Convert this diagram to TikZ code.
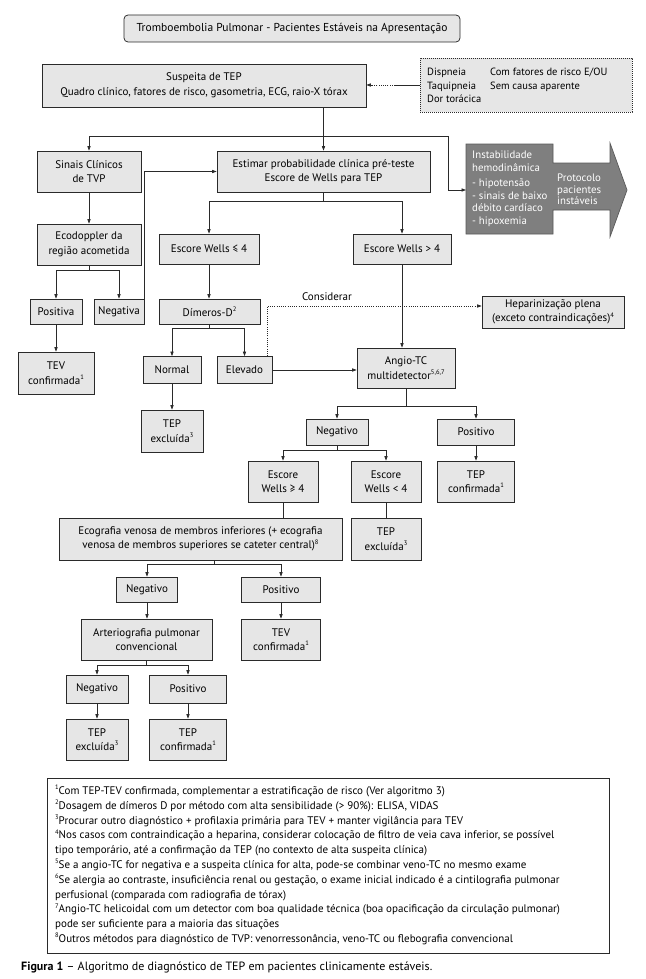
\documentclass[tikz,border=0pt]{standalone}
\usepackage{fontspec}
\setmainfont{PT Sans}
\usetikzlibrary{arrows.meta,calc}
\definecolor{boxfill}{HTML}{E6E6E6}
\definecolor{boxline}{HTML}{2A2A2A}
\definecolor{instfill}{HTML}{7F7F7F}
\definecolor{instline}{HTML}{5A5A5A}
\newcommand\bxf{\fontsize{11}{14.5}\selectfont}
\newcommand\smf{\fontsize{10.5}{13.5}\selectfont}
\newcommand\sps[1]{\raisebox{0.42em}{\fontsize{6.5}{7}\selectfont #1}}
\begin{document}
\begin{tikzpicture}[x=1pt,y=-1pt,
 box/.style={draw=boxline, fill=boxfill, line width=0.75pt, inner sep=1pt, align=center, font=\bxf},
 arr/.style={draw=boxline, line width=0.7pt, -{Triangle[length=4.5pt,width=3.2pt]}},
 ln/.style={draw=boxline, line width=0.7pt},
 dotln/.style={dash pattern=on 1pt off 1.2pt},
 txt/.style={inner sep=0pt, align=left, anchor=north west},
]
\useasboundingbox[fill=white] (0,0) rectangle (645,979);

% title
\node[box, rounded corners=4pt, minimum width=336pt, minimum height=27pt, font=\fontsize{11.5}{14}\selectfont] (title) at (292,28.5) {Tromboembolia Pulmonar - Pacientes Estáveis na Apresentação};

% row 1
\node[box, minimum width=324pt, minimum height=43pt] (susp) at (204,85.5) {Suspeita de TEP\\Quadro clínico, fatores de risco, gasometria, ECG, raio-X tórax};
\node[box, dash pattern=on 1.2pt off 0.8pt, minimum width=212pt, minimum height=54pt] (dash) at (526,85) {};
\node[txt, font=\smf] (dcol1) at (427,68) {Dispneia\\Taquipneia\\Dor torácica};
\node[txt, font=\smf] (dcol2) at (490,68) {Com fatores de risco E/OU\\Sem causa aparente};

% row 2
\node[box, minimum width=104pt, minimum height=41pt] (sinais) at (89,171.5) {Sinais Clínicos\\de TVP};
\node[box, minimum width=213pt, minimum height=41pt] (estimar) at (323.5,171.5) {Estimar probabilidade clínica pré-teste\\Escore de Wells para TEP};

% instability arrow shape
\draw[fill=instfill, draw=instline, line width=0.7pt] (466,144) -- (553,144) -- (553,163) -- (610,163) -- (610,143) -- (627,190) -- (610,237) -- (610,210) -- (553,210) -- (553,234) -- (466,234) -- cycle;
\coordinate (instW) at (466,190);
\node[txt, text=white, font=\fontsize{10.8}{12.5}\selectfont] (itxt) at (472,151) {Instabilidade\\hemodinâmica\\[3pt]- hipotensão\\- sinais de baixo\\débito cardíaco\\- hipoxemia};
\node[txt, text=white, font=\fontsize{10.8}{11.7}\selectfont] (ptxt) at (557,173.5) {Protocolo\\pacientes\\instáveis};

% row 3
\node[box, minimum width=104pt, minimum height=41pt] (ecod) at (89,244.5) {Ecodoppler da\\região acometida};
\node[box, minimum width=100pt, minimum height=30pt] (w1) at (209,249) {Escore Wells ≤ 4};
\node[box, minimum width=98pt, minimum height=30pt] (w2) at (402,249) {Escore Wells > 4};

% row 4
\node[box, minimum width=52pt, minimum height=25pt] (posa) at (56,311.5) {Positiva};
\node[box, minimum width=50pt, minimum height=25pt] (nega) at (119,311.5) {Negativa};
\node[box, minimum width=101pt, minimum height=25pt] (dim) at (209.5,311.5) {Dímeros-D\sps{2}};
\node[box, minimum width=142pt, minimum height=32pt] (hep) at (553,312) {Heparinização plena\\(exceto contraindicações)\sps{4}};
\node[inner sep=1pt, font=\bxf] (cons) at (327,297) {Considerar};

% row 5
\node[box, minimum width=76pt, minimum height=42pt] (tev1) at (56,373) {TEV\\confirmada\sps{1}};
\node[box, minimum width=58pt, minimum height=27pt] (normal) at (172,370) {Normal};
\node[box, minimum width=55pt, minimum height=27pt] (elev) at (244.5,370) {Elevado};
\node[box, minimum width=98pt, minimum height=40pt] (angio) at (406,368) {Angio-TC\\multidetector\sps{5,6,7}};

% row 6
\node[box, minimum width=62pt, minimum height=42pt] (tepx1) at (172,431) {TEP\\excluída\sps{3}};
\node[box, minimum width=62pt, minimum height=26pt] (neg1) at (337,432) {Negativo};
\node[box, minimum width=77pt, minimum height=26pt] (pos1) at (476,432) {Positivo};

% row 7
\node[box, minimum width=70pt, minimum height=41pt] (w3) at (283,481.5) {Escore\\Wells ≥ 4};
\node[box, minimum width=70pt, minimum height=41pt] (w4) at (386,481.5) {Escore\\Wells < 4};
\node[box, minimum width=77pt, minimum height=41pt] (tepc1) at (476,481.5) {TEP\\confirmada\sps{1}};

% row 8
\node[box, minimum width=283pt, minimum height=42pt] (eco) at (200.5,539) {Ecografia venosa de membros inferiores (+ ecografia\\venosa de membros superiores se cateter central)\sps{8}};
\node[box, minimum width=70pt, minimum height=42pt] (tepx2) at (386,539) {TEP\\excluída\sps{3}};

% row 9
\node[box, minimum width=61pt, minimum height=25pt] (neg2) at (147,589.5) {Negativo};
\node[box, minimum width=79pt, minimum height=25pt] (pos2) at (281,589.5) {Positivo};

% row 10
\node[box, minimum width=131pt, minimum height=41pt] (arterio) at (146.5,639.5) {Arteriografia pulmonar\\convencional};
\node[box, minimum width=79pt, minimum height=41pt] (tevc2) at (281,639.5) {TEV\\confirmada\sps{1}};

% row 11
\node[box, minimum width=62pt, minimum height=28pt] (neg3) at (97,689) {Negativo};
\node[box, minimum width=77pt, minimum height=28pt] (pos3) at (188,689) {Positivo};

% row 12
\node[box, minimum width=62pt, minimum height=41pt] (tepx3) at (97,739.5) {TEP\\excluída\sps{3}};
\node[box, minimum width=77pt, minimum height=41pt] (tepc3) at (188,739.5) {TEP\\confirmada\sps{1}};

% ---------- connectors ----------
\coordinate (dd) at (395,85);
\draw[ln] (dash.west) -- (dd);
\draw[arr, dotln] (dd) -- (susp.east |- dd);

\coordinate (b1) at (323.5,136);
\coordinate (k1) at (448,190);
\draw[arr] (estimar.north |- susp.south) -- (estimar.north);
\draw[arr] (b1) -| (sinais.north);
\draw[arr] (b1) -| (k1) -- (instW);

\draw[arr] (sinais.south) -- (ecod.north);
\coordinate (b2) at (89,270);
\draw[ln] (ecod.south) -- (b2);
\draw[arr] (b2) -| (posa.north);
\draw[arr] (b2) -| (nega.north);
\draw[arr] (nega.north east) -- (nega.north east |- estimar.west) -- (estimar.west);
\draw[arr] (posa.south) -- (tev1.north);

\coordinate (b3) at (323.5,201);
\draw[ln] (estimar.south) -- (b3);
\draw[arr] (b3) -| (w1.north);
\draw[arr] (b3) -| (w2.north);

\draw[arr] (w1.south) -- (dim.north -| w1.south);
\coordinate (b4) at (209.5,328);
\draw[ln] (dim.south) -- (b4);
\draw[arr] (b4) -| (normal.north);
\draw[arr] (b4) -| (elev.north);
\draw[arr] (normal.south) -- (tepx1.north);
\draw[arr] (elev.east) -- (angio.west |- elev.east);
\draw[arr, dotln] ([xshift=-5pt]elev.north east) |- ([yshift=6pt]hep.west);

\draw[arr] (w2.south) -- (angio.north -| w2.south);
\coordinate (b5) at (406,406);
\draw[ln] (angio.south) -- (b5);
\draw[arr] (b5) -| (neg1.north);
\draw[arr] (b5) -| (pos1.north);

\coordinate (b6) at (337,450);
\draw[ln] (neg1.south) -- (b6);
\draw[arr] (b6) -| (w3.north);
\draw[arr] (b6) -| (w4.north);
\draw[arr] (pos1.south) -- (tepc1.north);

\draw[ln] (w3.south) -- (eco.north -| w3.south);
\draw[ln] (w4.south) -- (tepx2.north);

\coordinate (b7) at (214,564);
\draw[ln] (eco.south -| b7) -- (b7);
\draw[arr] (b7) -| (neg2.north);
\draw[arr] (b7) -| (pos2.north);
\draw[arr] (neg2.south) -- (arterio.north -| neg2.south);
\draw[arr] (pos2.south) -- (tevc2.north);

\coordinate (b8) at (146.5,665);
\draw[ln] (arterio.south) -- (b8);
\draw[arr] (b8) -| (neg3.north);
\draw[arr] (b8) -| (pos3.north);
\draw[arr] (neg3.south) -- (tepx3.north);
\draw[arr] (pos3.south) -- (tepc3.north);

% footnotes
\node[draw=boxline, line width=0.75pt, minimum width=562pt, minimum height=175pt] (fnbox) at (328,865.5) {};
\node[txt, font=\fontsize{11}{14.8}\selectfont] (fntext) at (55,785) {\sps{1}Com TEP-TEV confirmada, complementar a estratificação de risco (Ver algoritmo 3)\\
\sps{2}Dosagem de dímeros D por método com alta sensibilidade (> 90\%): ELISA, VIDAS\\
\sps{3}Procurar outro diagnóstico + profilaxia primária para TEV + manter vigilância para TEV\\
\sps{4}Nos casos com contraindicação a heparina, considerar colocação de filtro de veia cava inferior, se possível\\
tipo temporário, até a confirmação da TEP (no contexto de alta suspeita clínica)\\
\sps{5}Se a angio-TC for negativa e a suspeita clínica for alta, pode-se combinar veno-TC no mesmo exame\\
\sps{6}Se alergia ao contraste, insuficiência renal ou gestação, o exame inicial indicado é a cintilografia pulmonar\\
perfusional (comparada com radiografia de tórax)\\
\sps{7}Angio-TC helicoidal com um detector com boa qualidade técnica (boa opacificação da circulação pulmonar)\\
pode ser suficiente para a maioria das situações\\
\sps{8}Outros métodos para diagnóstico de TVP: venorressonância, veno-TC ou flebografia convencional};

\node[inner sep=0pt, anchor=west, font=\fontsize{12}{14}\selectfont] (cap) at (21,967) {\textbf{Figura 1} – Algoritmo de diagnóstico de TEP em pacientes clinicamente estáveis.};
\end{tikzpicture}
\end{document}
